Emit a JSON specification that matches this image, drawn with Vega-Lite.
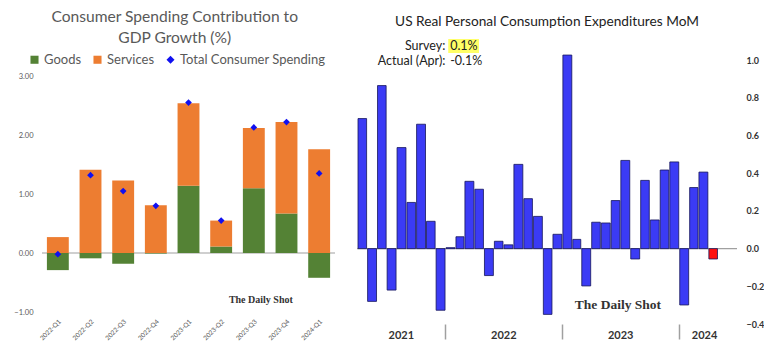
{
  "$schema": "https://vega.github.io/schema/vega-lite/v6.json",
  "background": "white",
  "padding": {"left": 13, "top": 10, "right": 0, "bottom": 0},
  "spacing": 20,
  "config": {
    "font": "Lato",
    "view": {"stroke": null}
  },
  "resolve": {"scale": {"color": "independent", "shape": "independent"}},
  "datasets": {
    "contrib": [
      {"q": "2022-Q1", "series": "Goods", "value": -0.29},
      {"q": "2022-Q1", "series": "Services", "value": 0.27},
      {"q": "2022-Q1", "series": "Total Consumer Spending", "value": -0.02},
      {"q": "2022-Q2", "series": "Goods", "value": -0.09},
      {"q": "2022-Q2", "series": "Services", "value": 1.41},
      {"q": "2022-Q2", "series": "Total Consumer Spending", "value": 1.32},
      {"q": "2022-Q3", "series": "Goods", "value": -0.18},
      {"q": "2022-Q3", "series": "Services", "value": 1.23},
      {"q": "2022-Q3", "series": "Total Consumer Spending", "value": 1.05},
      {"q": "2022-Q4", "series": "Goods", "value": -0.01},
      {"q": "2022-Q4", "series": "Services", "value": 0.81},
      {"q": "2022-Q4", "series": "Total Consumer Spending", "value": 0.8},
      {"q": "2023-Q1", "series": "Goods", "value": 1.14},
      {"q": "2023-Q1", "series": "Services", "value": 1.4},
      {"q": "2023-Q1", "series": "Total Consumer Spending", "value": 2.55},
      {"q": "2023-Q2", "series": "Goods", "value": 0.11},
      {"q": "2023-Q2", "series": "Services", "value": 0.44},
      {"q": "2023-Q2", "series": "Total Consumer Spending", "value": 0.55},
      {"q": "2023-Q3", "series": "Goods", "value": 1.1},
      {"q": "2023-Q3", "series": "Services", "value": 1.02},
      {"q": "2023-Q3", "series": "Total Consumer Spending", "value": 2.13},
      {"q": "2023-Q4", "series": "Goods", "value": 0.67},
      {"q": "2023-Q4", "series": "Services", "value": 1.55},
      {"q": "2023-Q4", "series": "Total Consumer Spending", "value": 2.22},
      {"q": "2024-Q1", "series": "Goods", "value": -0.42},
      {"q": "2024-Q1", "series": "Services", "value": 1.76},
      {"q": "2024-Q1", "series": "Total Consumer Spending", "value": 1.35}
    ],
    "pce": [
      {"date": "2021-04-15", "value": 0.69},
      {"date": "2021-05-15", "value": -0.28},
      {"date": "2021-06-15", "value": 0.865},
      {"date": "2021-07-15", "value": -0.22},
      {"date": "2021-08-15", "value": 0.536},
      {"date": "2021-09-15", "value": 0.245},
      {"date": "2021-10-15", "value": 0.66},
      {"date": "2021-11-15", "value": 0.145},
      {"date": "2021-12-15", "value": -0.327},
      {"date": "2022-01-15", "value": 0.005},
      {"date": "2022-02-15", "value": 0.063},
      {"date": "2022-03-15", "value": 0.357},
      {"date": "2022-04-15", "value": 0.315},
      {"date": "2022-05-15", "value": -0.143},
      {"date": "2022-06-15", "value": 0.039},
      {"date": "2022-07-15", "value": 0.02},
      {"date": "2022-08-15", "value": 0.447},
      {"date": "2022-09-15", "value": 0.265},
      {"date": "2022-10-15", "value": 0.171},
      {"date": "2022-11-15", "value": -0.349},
      {"date": "2022-12-15", "value": 0.076},
      {"date": "2023-01-15", "value": 1.027},
      {"date": "2023-02-15", "value": 0.049},
      {"date": "2023-03-15", "value": -0.198},
      {"date": "2023-04-15", "value": 0.14},
      {"date": "2023-05-15", "value": 0.136},
      {"date": "2023-06-15", "value": 0.255},
      {"date": "2023-07-15", "value": 0.468},
      {"date": "2023-08-15", "value": -0.055},
      {"date": "2023-09-15", "value": 0.362},
      {"date": "2023-10-15", "value": 0.152},
      {"date": "2023-11-15", "value": 0.417},
      {"date": "2023-12-15", "value": 0.46},
      {"date": "2024-01-15", "value": -0.299},
      {"date": "2024-02-15", "value": 0.324},
      {"date": "2024-03-15", "value": 0.406},
      {"date": "2024-04-15", "value": -0.055}
    ]
  },
  "hconcat": [
    {
      "width": 293,
      "height": 279,
      "title": {
        "text": ["Consumer Spending Contribution to", "GDP Growth (%)"],
        "font": "Lato",
        "fontSize": 15.6,
        "fontWeight": "normal",
        "color": "#595959",
        "lineHeight": 21,
        "frame": "bounds",
        "anchor": "middle",
        "offset": -14
      },
      "data": {"name": "contrib"},
      "layer": [
        {
          "data": {"values": [{}]},
          "mark": {"type": "rule", "color": "#a0a0a0", "strokeWidth": 1.2},
          "encoding": {"y": {"datum": 0, "type": "quantitative"}}
        },
        {
          "transform": [{"filter": "datum.series !== 'Total Consumer Spending'"}],
          "mark": {"type": "bar"},
          "encoding": {
            "x": {
              "field": "q",
              "type": "ordinal",
              "scale": {"paddingInner": 0.33, "paddingOuter": 0.15},
              "axis": {
                "title": null,
                "labelAngle": -45,
                "labelFontSize": 6.5,
                "labelColor": "#595959",
                "domain": false,
                "ticks": false,
                "labelPadding": 6
              }
            },
            "y": {
              "field": "value",
              "type": "quantitative",
              "stack": "zero",
              "scale": {"domain": [-1, 3.73], "nice": false},
              "axis": {
                "title": null,
                "values": [-1, -0.5, 0, 0.5, 1, 1.5, 2, 2.5, 3],
                "format": ".2f",
                "domain": false,
                "ticks": false,
                "labelFontSize": 7.5,
                "labelColor": "#595959",
                "labelPadding": 9,
                "gridColor": "#dedede"
              }
            },
            "order": {"field": "series", "sort": "ascending"},
            "color": {
              "field": "series",
              "type": "nominal",
              "scale": {
                "domain": ["Goods", "Services", "Total Consumer Spending"],
                "range": ["#548235", "#ED7D31", "#1010F0"]
              },
              "legend": {
                "orient": "none",
                "direction": "horizontal",
                "legendX": -14,
                "legendY": 20,
                "title": null,
                "labelFontSize": 13,
                "labelColor": "#595959",
                "symbolSize": 65,
                "columnPadding": 9,
                "labelOffset": 3
              }
            }
          }
        },
        {
          "transform": [{"filter": "datum.series === 'Total Consumer Spending'"}],
          "mark": {"type": "point", "filled": true, "size": 45, "opacity": 1},
          "encoding": {
            "x": {"field": "q", "type": "ordinal"},
            "y": {"field": "value", "type": "quantitative"},
            "color": {"field": "series", "type": "nominal"},
            "shape": {
              "field": "series",
              "type": "nominal",
              "scale": {
                "domain": ["Goods", "Services", "Total Consumer Spending"],
                "range": ["square", "square", "diamond"]
              }
            }
          }
        },
        {
          "data": {"values": [{}]},
          "mark": {"type": "text", "text": "The Daily Shot", "font": "Liberation Serif", "fontWeight": "bold", "fontSize": 10, "color": "#333333", "dx": 7},
          "encoding": {
            "x": {"datum": "2023-Q3", "type": "ordinal"},
            "y": {"datum": -0.79, "type": "quantitative"}
          }
        }
      ]
    },
    {
      "width": 380,
      "height": 291,
      "title": {
        "text": "US Real Personal Consumption Expenditures MoM",
        "font": "Lato",
        "fontSize": 13.7,
        "fontWeight": "normal",
        "color": "#222222",
        "frame": "group",
        "anchor": "middle",
        "offset": 4
      },
      "layer": [
        {
          "data": {"values": [{}]},
          "mark": {"type": "rule", "color": "#a0a0a0", "strokeWidth": 1.2},
          "encoding": {"y": {"datum": 0, "type": "quantitative"}}
        },
        {
          "data": {"name": "pce"},
          "mark": {"type": "bar", "stroke": "#15155a", "strokeWidth": 0.8},
          "encoding": {
            "x": {
              "field": "date",
              "type": "temporal",
              "timeUnit": "yearmonth",
              "scale": {"domain": [{"year": 2021, "month": 4, "date": 1}, {"year": 2024, "month": 7, "date": 1}]},
              "axis": {
                "title": null,
                "domain": false,
                "grid": false,
                "values": [
                  {"year": 2021, "month": 8, "date": 16},
                  {"year": 2022, "month": 1, "date": 1},
                  {"year": 2022, "month": 7, "date": 2},
                  {"year": 2023, "month": 1, "date": 1},
                  {"year": 2023, "month": 7, "date": 2},
                  {"year": 2024, "month": 1, "date": 1},
                  {"year": 2024, "month": 3, "date": 20}
                ],
                "labelExpr": "date(datum.value) == 1 && month(datum.value) == 0 ? '' : timeFormat(datum.value, '%Y')",
                "tickColor": {"condition": {"test": "date(datum.value) == 1 && month(datum.value) == 0", "value": "#a0a0a0"}, "value": "transparent"},
                "tickSize": 15,
                "tickWidth": 1.5,
                "labelPadding": -10,
                "labelFontSize": 11,
                "labelFontWeight": "bold",
                "labelColor": "#333333",
                "labelAlign": "center",
                "labelBaseline": "top"
              }
            },
            "y": {
              "field": "value",
              "type": "quantitative",
              "scale": {"domain": [-0.4, 1.144], "nice": false},
              "axis": {
                "orient": "right",
                "title": null,
                "values": [-0.4, -0.2, 0, 0.2, 0.4, 0.6, 0.8, 1.0],
                "format": ".1f",
                "domain": false,
                "ticks": false,
                "labelFontSize": 9,
                "labelFontWeight": "bold",
                "labelColor": "#333333",
                "labelPadding": 9,
                "gridColor": "#d9d9d9"
              }
            },
            "color": {
              "condition": {"test": "year(datum.date) == 2024 && month(datum.date) == 3", "value": "#ff1010"},
              "value": "#3b3bf5"
            }
          }
        },
        {
          "data": {"values": [{}]},
          "mark": {"type": "rect", "color": "white"},
          "encoding": {
            "x": {"datum": {"year": 2021, "month": 4, "date": 1}, "type": "temporal"},
            "x2": {"datum": {"year": 2022, "month": 4, "date": 28}},
            "y": {"datum": 0.95, "type": "quantitative"},
            "y2": {"datum": 1.13}
          }
        },
        {
          "data": {"values": [{}]},
          "mark": {"type": "rect", "color": "#ffff66"},
          "encoding": {
            "x": {"datum": {"year": 2022, "month": 1, "date": 11}, "type": "temporal"},
            "x2": {"datum": {"year": 2022, "month": 4, "date": 17}},
            "y": {"datum": 1.038, "type": "quantitative"},
            "y2": {"datum": 1.112}
          }
        },
        {
          "data": {"values": [{"label": "Survey:", "num": "0.1%", "row": 1.052}, {"label": "Actual (Apr):", "num": "-0.1%", "row": 0.972}]},
          "layer": [
            {
              "mark": {"type": "text", "align": "right", "baseline": "alphabetic", "fontSize": 12.5, "color": "#222222"},
              "encoding": {
                "x": {"datum": {"year": 2022, "month": 1, "date": 2}, "type": "temporal"},
                "y": {"field": "row", "type": "quantitative"},
                "text": {"field": "label"}
              }
            },
            {
              "mark": {"type": "text", "align": "left", "baseline": "alphabetic", "fontSize": 12.5, "color": "#222222"},
              "encoding": {
                "x": {"datum": {"year": 2022, "month": 1, "date": 17}, "type": "temporal"},
                "y": {"field": "row", "type": "quantitative"},
                "text": {"field": "num"}
              }
            }
          ]
        },
        {
          "data": {"values": [{}]},
          "mark": {"type": "text", "text": "The Daily Shot", "font": "Liberation Serif", "fontWeight": "bold", "fontSize": 13.5, "color": "#333333", "baseline": "alphabetic"},
          "encoding": {
            "x": {"datum": {"year": 2023, "month": 6, "date": 25}, "type": "temporal"},
            "y": {"datum": -0.32, "type": "quantitative"}
          }
        }
      ]
    }
  ]
}
